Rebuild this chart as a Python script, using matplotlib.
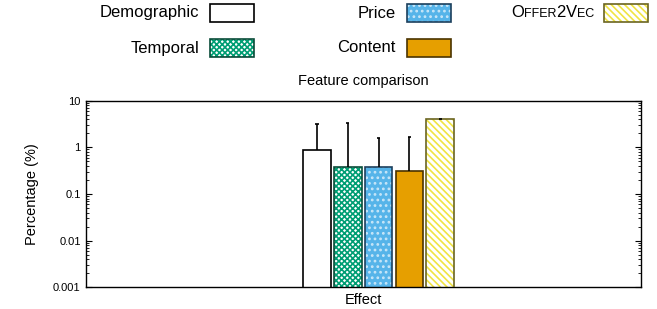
import matplotlib
matplotlib.use('Agg')
import matplotlib.pyplot as plt
from matplotlib.patches import Rectangle
from matplotlib.ticker import LogLocator, NullFormatter
import numpy as np

plt.rcParams['font.family'] = ['Liberation Sans', 'DejaVu Sans']
plt.rcParams['hatch.linewidth'] = 1.2

# data
features = ['Demographic', 'Temporal', 'Price', 'Content', 'Offer2Vec']
values = [0.88, 0.385, 0.385, 0.31, 4.05]
err_top = [3.2, 3.3, 1.56, 1.69, 4.15]
group = ['Effect']

# styles: face, hatch, hatch colour, border
faces = ['white', 'white', '#56b4e9', '#e69f00', 'white']
hatches = [None, 'xxxxxx', '...', None, '\\\\\\\\\\']
hatch_cols = ['none', '#009e73', '#c8e6f8', 'none', '#f0e442']
borders = ['black', '#0b4d3a', '#1c3f5c', '#4a3300', '#6b6520']

W, H = 657, 309
fig = plt.figure(figsize=(W / 100, H / 100), dpi=100)
ax = fig.add_axes([85.5 / W, 1 - 287.3 / H, (640.7 - 85.5) / W, (287.3 - 100.7) / H])

pos = np.arange(len(features)) - 1.5
width = 0.9
for i in range(len(features)):
    ax.bar(pos[i], values[i], width, color=faces[i], hatch=hatches[i],
           edgecolor=hatch_cols[i], linewidth=0, zorder=2)
    ax.bar(pos[i], values[i], width, fill=False, edgecolor=borders[i],
           linewidth=1.2, zorder=3)
# upper error bars only
ax.vlines(pos, values, err_top, color='black', linewidth=1.2, zorder=4)
ax.hlines(err_top, pos - 0.06, pos + 0.06, color='black', linewidth=1.2, zorder=4)

ax.set_yscale('log')
ax.set_ylim(0.001, 10)
ax.set_xlim(-8.98, 8.98)
ax.set_yticks([0.001, 0.01, 0.1, 1, 10])
ax.set_yticklabels(['0.001', '0.01', '0.1', '1', '10'], fontsize=8)
ax.yaxis.set_minor_locator(LogLocator(base=10, subs=np.arange(2, 10)))
ax.yaxis.set_minor_formatter(NullFormatter())
ax.tick_params(axis='y', which='both', direction='in', left=True, right=True)
ax.tick_params(axis='y', which='major', length=4, width=0.8)
ax.tick_params(axis='y', which='minor', length=2, width=0.6)
ax.set_xticks([0])
ax.set_xticklabels(group, fontsize=10.5)
ax.tick_params(axis='x', length=0, pad=4)
ax.set_ylabel('Percentage (%)', fontsize=10.5, labelpad=10)
ax.set_title('Feature comparison', fontsize=10.5, pad=11)
for s in ax.spines.values():
    s.set_linewidth(1.0)


def fx(x):
    return x / W


def fy(y):
    return 1 - y / H


# gnuplot-style key: text right-aligned, then swatch
leg_slots = [(199, 210, 13), (199, 210, 48), (396, 407, 13), (396, 407, 48), (594, 604, 13)]
sw_w, sw_h = 44, 18
for i, (tx, sx, cy) in enumerate(leg_slots):
    r1 = Rectangle((fx(sx), fy(cy + sw_h / 2)), fx(sw_w), sw_h / H, transform=fig.transFigure,
                   facecolor=faces[i], hatch=hatches[i], edgecolor=hatch_cols[i], linewidth=0)
    r2 = Rectangle((fx(sx), fy(cy + sw_h / 2)), fx(sw_w), sw_h / H, transform=fig.transFigure,
                   fill=False, edgecolor=borders[i], linewidth=1.2)
    fig.add_artist(r1)
    fig.add_artist(r2)
    if features[i] != 'Offer2Vec':
        fig.text(fx(tx), fy(cy), features[i], ha='right', va='center', fontsize=12)

# small caps "OFFER2VEC"
renderer = fig.canvas.get_renderer()
pieces = [('O', 12), ('FFER', 9), ('2', 12), ('V', 12), ('EC', 9)]
tx, sx, cy = leg_slots[4]
texts = []
for s, fs in pieces:
    t = fig.text(0, fy(cy + 4.3), s, ha='left', va='baseline', fontsize=fs)
    texts.append(t)
widths = [t.get_window_extent(renderer).width for t in texts]
x = tx - sum(widths)
for t, w in zip(texts, widths):
    t.set_x(fx(x))
    x += w

fig.savefig('out.png', dpi=100)
